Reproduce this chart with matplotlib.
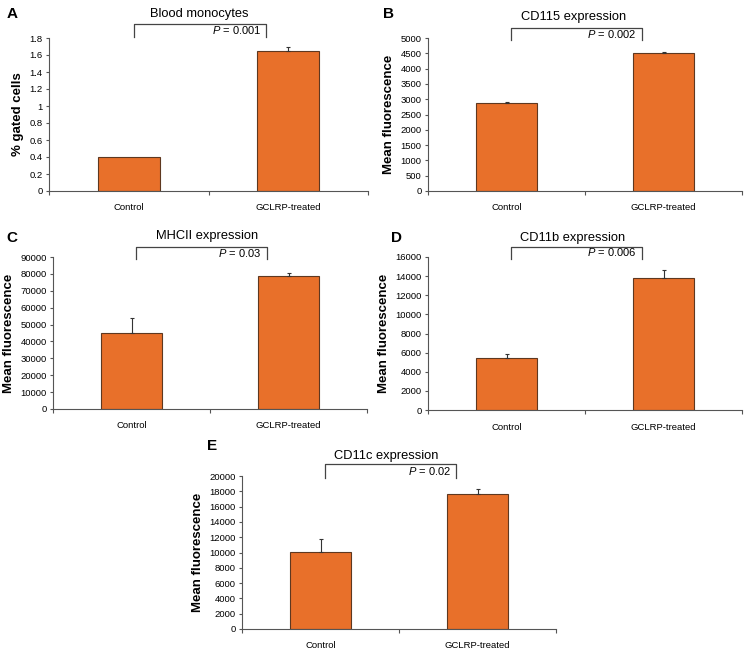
import numpy as np
import matplotlib
matplotlib.use("Agg")
import matplotlib.pyplot as plt
import matplotlib.transforms as mtransforms

plt.rcParams['font.family'] = ['Liberation Sans', 'DejaVu Sans']
plt.rcParams['mathtext.fontset'] = 'custom'
plt.rcParams['mathtext.rm'] = 'Liberation Sans'
plt.rcParams['mathtext.it'] = 'Liberation Sans:italic'

# data
groups = ["Control", "GCLRP-treated"]
titles = ["Blood monocytes", "CD115 expression", "MHCII expression",
          "CD11b expression", "CD11c expression"]
letters = ["A", "B", "C", "D", "E"]
ylabels = ["% gated cells", "Mean fluorescence", "Mean fluorescence",
           "Mean fluorescence", "Mean fluorescence"]
pvals = ["0.001", "0.002", "0.03", "0.006", "0.02"]

mono_mean = [0.40, 1.65]
mono_err = [0.0, 0.05]
cd115_mean = [2870, 4500]
cd115_err = [50, 50]
mhcii_mean = [45000, 78800]
mhcii_err = [8700, 2000]
cd11b_mean = [5400, 13800]
cd11b_err = [450, 850]
cd11c_mean = [10100, 17700]
cd11c_err = [1600, 600]

means = [mono_mean, cd115_mean, mhcii_mean, cd11b_mean, cd11c_mean]
errs = [mono_err, cd115_err, mhcii_err, cd11b_err, cd11c_err]
ymax = [1.8, 5000, 90000, 16000, 20000]
ystep = [0.2, 500, 10000, 2000, 2000]

W, H = 749, 656
fig = plt.figure(figsize=(W/100, H/100), dpi=100)

# axes boxes in pixels: x0, y0(top), x1, y1(bottom)
boxes = [(49, 38, 368, 191), (428, 38, 742, 191), (53, 257, 367, 409),
         (428, 257, 742, 410), (242, 476, 556, 629)]
letter_pos = [(12, 14), (388, 14), (12, 238), (396, 238), (212, 446)]
title_pos = [(0.44, 1.157), (0.43, 1.137), (0.48, 1.138), (0.42, 1.124), (0.42, 1.13)]
brackets = [(1.09, 1.007), (1.065, 0.987), (1.066, 0.987), (1.066, 0.987), (1.078, 0.987)]

bar_color = "#E8702A"
edge_color = "#5E3820"

def fmt(v, step):
    if step < 1:
        s = "%.1f" % v
        return "0" if v == 0 else ("1" if abs(v - 1) < 1e-9 else s)
    return "%d" % v

for i in range(5):
    x0, y0, x1, y1 = boxes[i]
    ax = fig.add_axes([x0/W, 1 - y1/H, (x1 - x0)/W, (y1 - y0)/H])
    x = np.arange(len(groups))
    ax.bar(x, means[i], width=0.39, color=bar_color, edgecolor=edge_color, lw=0.8, zorder=2)
    e = np.array(errs[i], dtype=float)
    keep = e > 0
    ax.errorbar(x[keep], np.array(means[i])[keep], yerr=[np.zeros(keep.sum()), e[keep]],
                fmt="none", ecolor="#333333", elinewidth=0.8, capsize=1.5,
                capthick=0.8, zorder=3)
    ax.set_xlim(-0.5, 1.5)
    ax.set_ylim(0, ymax[i])
    ticks = np.arange(0, ymax[i] + ystep[i]/2, ystep[i])
    ax.set_yticks(ticks)
    ax.set_yticklabels([fmt(t, ystep[i]) for t in ticks], fontsize=6.8)
    ax.set_xticks([-0.5, 0.5, 1.5])
    ax.set_xticklabels([])
    ax.set_xticks(x, minor=True)
    ax.set_xticklabels(groups, minor=True, fontsize=6.8)
    ax.tick_params(axis="x", which="minor", length=0, pad=9)
    ax.tick_params(axis="x", which="major", length=3, direction="out", color="#555555")
    ax.tick_params(axis="y", length=2.5, direction="out", color="#555555", pad=2)
    for s in ["top", "right"]:
        ax.spines[s].set_visible(False)
    for s in ["left", "bottom"]:
        ax.spines[s].set_color("#555555")
        ax.spines[s].set_linewidth(0.8)
    ax.set_ylabel(ylabels[i], fontsize=9.5, fontweight="bold", labelpad=4)

    trans = mtransforms.blended_transform_factory(ax.transData, ax.transAxes)
    top, leg = brackets[i]
    bl, br = 0.03, 0.86
    ax.plot([bl, bl, br, br], [leg, top, top, leg], color="#444444", lw=0.9,
            transform=trans, clip_on=False)
    ax.text(br - 0.03, (top + leg) / 2 + 0.003, "$P$ = " + pvals[i], transform=trans,
            ha="right", va="center", fontsize=8)
    tx, ty = title_pos[i]
    ax.text(tx, ty, titles[i], transform=trans, ha="center", va="center", fontsize=9.3)
    lx, ly = letter_pos[i]
    fig.text(lx/W, 1 - ly/H, letters[i], fontsize=11, fontweight="bold",
             ha="center", va="center")

fig.savefig("out.png", dpi=100)
